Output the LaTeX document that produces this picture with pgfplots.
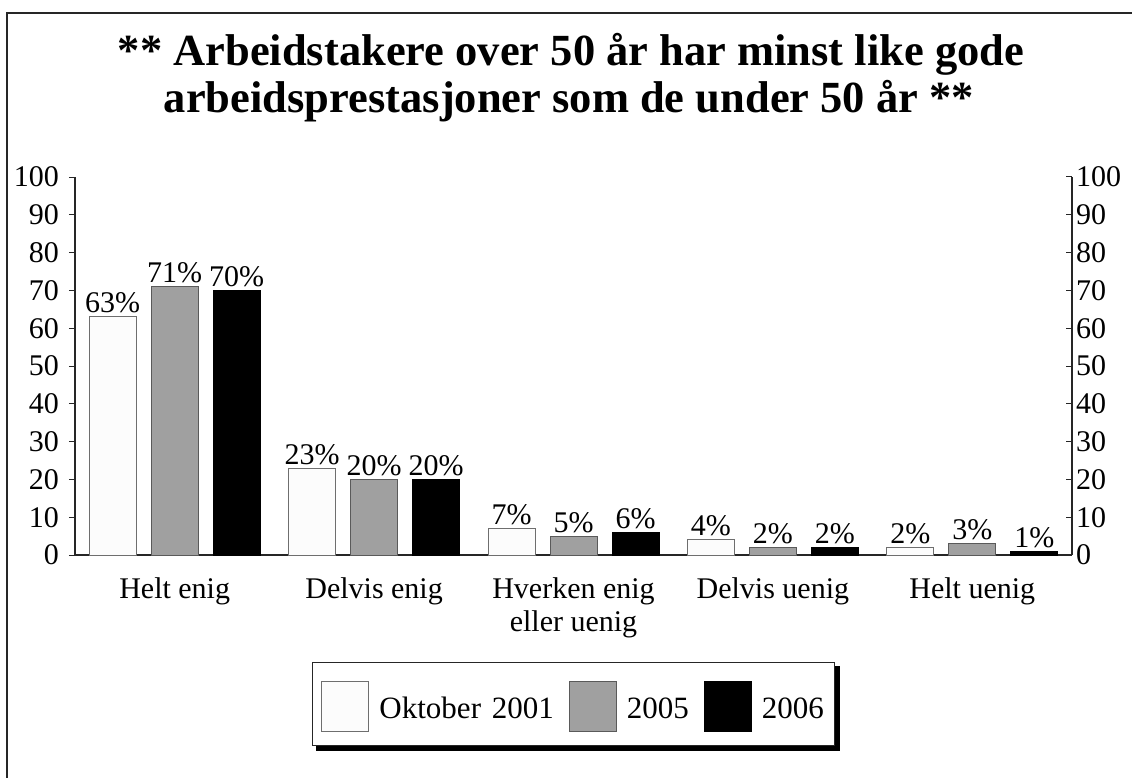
\documentclass[border=0pt]{standalone}
\usepackage{pgfplots}
\pgfplotsset{compat=1.18}
\usepackage{fontspec}
\setmainfont{Liberation Serif}
\pgfdeclarelayer{background}
\pgfsetlayers{background,main}
\definecolor{cwhite}{RGB}{252,252,252}
\definecolor{cgray}{RGB}{160,160,160}
\definecolor{cgrayedge}{RGB}{90,90,90}
\definecolor{cwhiteedge}{RGB}{110,110,110}
\newcommand{\lbl}{\fontsize{30}{33}\selectfont}
\begin{document}
\begin{tikzpicture}[x=1pt,y=1pt]
\useasboundingbox (0,0) rectangle (1132,-778);
\draw[line width=2pt, black!85] (7,-778) -- (7,-13) -- (1132,-13);
\node[anchor=base, inner sep=0pt, font=\fontsize{44.5}{48}\selectfont\bfseries] at (571,-66) {** Arbeidstakere over 50 år har minst like gode};
\node[anchor=base, inner sep=0pt, font=\fontsize{44.5}{48}\selectfont\bfseries] at (569,-113) {arbeidsprestasjoner som de under 50 år **};
\begin{axis}[
  at={(75pt,-555pt)}, anchor=south west,
  scale only axis, width=997pt, height=378pt,
  xmin=-0.5, xmax=4.5, ymin=0, ymax=100,
  axis x line*=bottom, axis y line*=left,
  axis line style={line width=1.2pt, black!85},
  ytick={0,10,...,100},
  major tick length=6pt,
  y tick style={line width=1pt, black!85},
  xtick={0,1,2,3,4},
  xticklabels={Helt enig, Delvis enig, {Hverken enig\\eller uenig}, Delvis uenig, Helt uenig},
  x tick style={draw=none},
  xticklabel style={align=center, anchor=north, inner sep=0pt, yshift=-16pt, font=\lbl},
  yticklabel style={anchor=east, inner sep=0pt, xshift=-10pt, font=\lbl},
  /pgf/number format/assume math mode=true,
  ybar=15pt, bar width=47pt,
  ytick align=outside,
  nodes near coords={\pgfmathprintnumber{\pgfplotspointmeta}\%},
  nodes near coords style={font=\lbl, inner sep=0pt, anchor=south, yshift=3pt, black},
  legend columns=-1,
  legend style={name=leg, at={(0.2377,-0.283)}, anchor=north west, draw=black!85, line width=1pt,
    fill=white,
    font=\fontsize{31}{33}\selectfont, inner xsep=9pt, inner ysep=14pt,
    nodes={inner sep=2pt},
    /tikz/every odd column/.append style={column sep=8pt},
    /tikz/every even column/.append style={column sep=13pt}},
  clip=false,
]
\addplot[fill=cwhite, draw=cwhiteedge, line width=1pt, legend image code/.code={\path[draw=none,fill=none] (0pt,-23pt) rectangle (47pt,32pt); \draw[fill=cwhite, draw=cwhiteedge, line width=1pt] (0pt,-23pt) rectangle (47pt,27pt);}] coordinates {(0,63) (1,23) (2,7) (3,4) (4,2)};
\addplot[fill=cgray, draw=cgrayedge, line width=1pt, legend image code/.code={\path[draw=none,fill=none] (0pt,-23pt) rectangle (47pt,32pt); \draw[fill=cgray, draw=cgrayedge, line width=1pt] (0pt,-23pt) rectangle (47pt,27pt);}] coordinates {(0,71) (1,20) (2,5) (3,2) (4,3)};
\addplot[fill=black, draw=black, line width=1pt, legend image code/.code={\path[draw=none,fill=none] (0pt,-23pt) rectangle (47pt,32pt); \draw[fill=black, draw=black, line width=1pt] (0pt,-23pt) rectangle (47pt,27pt);}] coordinates {(0,70) (1,20) (2,6) (3,2) (4,1)};
\legend{Oktober\hspace{3pt} 2001, 2005, 2006}
\end{axis}
\begin{pgfonlayer}{background}
\fill[black] ([xshift=4.5pt,yshift=-4.5pt]leg.south west) rectangle ([xshift=4.5pt,yshift=-4.5pt]leg.north east);
\end{pgfonlayer}
\begin{axis}[
  at={(75pt,-555pt)}, anchor=south west,
  scale only axis, width=997pt, height=378pt,
  xmin=-0.5, xmax=4.5, ymin=0, ymax=100,
  axis x line=none, axis y line*=right,
  axis line style={line width=1.2pt, black!85},
  ytick={0,10,...,100},
  major tick length=6pt,
  ytick align=inside,
  y tick style={line width=1pt, black!85},
  yticklabel style={anchor=west, inner sep=0pt, xshift=4pt, font=\lbl},
  /pgf/number format/assume math mode=true,
]
\end{axis}
\end{tikzpicture}
\end{document}
